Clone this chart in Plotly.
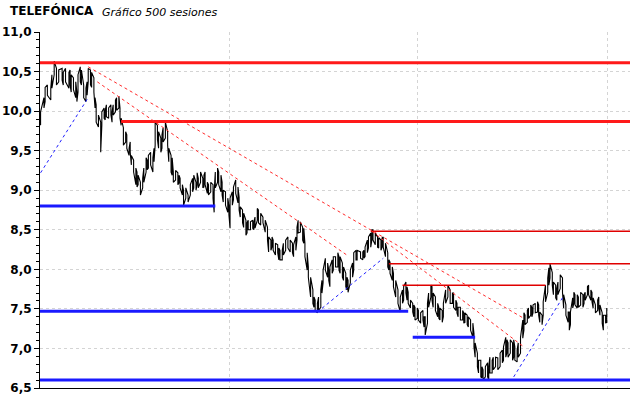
import plotly.graph_objects as go

# ---- price data (session index, high, low) ----
sessions = [0,3,4,6,9,10,12,14,16,19,20,22,25,26,27,29,31,32,33,35,36,38,40,41,42,44,45,47,48,49,
            51,53,54,56,57,58,60,62,63,64,66,67,69,70,71,73,75,76,78,79,80,82,84,85,86,88,90,91,93,94,
            95,97,99,100,101,103,104,106,107,108,110,112,113,115,116,117,119,121,122,123,125,126,128,130,
            132,134,135,137,138,139,141,143,144,145,147,148,150,152,153,154,156,157,159,160,161,163,165,166,
            167,169,170,172,174,175,176,178,179,181,182,183,185,187,188,189,191,192,194,196,198,200,201,203,
            204,205,207,209,210,211,213,214,216,218,220,222,223,225,226,227,229,231,232,233,235,236,238,240,
            241,242,244,245,247,248,249,251,253,254,255,257,258,260,262,263,264,266,267,269,270,271,273,275,
            276,278,279,282,284,285,286,288,289,291,292,293,295,297,298,300,301,302,304,306,307,308,310,311,
            313,315,317,319,320,322,323,324,326,328,329,330,332,333,335,337,338,339,341,342,344,345,346,348,
            350,351,352,354,355,357,359,361,363,364,366,367,368,370,372,373,374,376,377,379,381,382,383,385,
            386,388,389,390,392,394,395,396,398,399,401,403,405,407,408,410,411,412,414,416,417,418,420,421,
            423,425,426,427,429,430,432,433,434,436,438,439,440,442,443,445,447,448,449,451,452,454,455,456,
            458,460,461,463,465,466,467,469,470,471,473,474,476,478,479,480,482,483,485,486,487,489,491,492,
            493,495,496,498,499]
highs = [9.99,10.17,10.30,10.33,10.29,10.46,10.63,10.54,10.52,10.54,10.49,10.54,10.49,10.52,10.46,10.42,10.37,10.24,10.46,10.56,
         10.52,10.33,10.29,10.37,10.54,10.52,10.49,10.42,10.17,10.08,9.95,9.86,9.99,10.04,10.01,10.08,10.04,10.08,9.99,10.08,
         10.14,10.17,10.19,10.04,9.91,9.79,9.74,9.70,9.53,9.61,9.44,9.38,9.28,9.23,9.19,9.10,9.15,9.28,9.41,9.38,
         9.44,9.48,9.41,9.53,9.86,9.82,9.74,9.66,9.70,9.79,9.86,9.74,9.53,9.44,9.41,9.23,9.25,9.22,9.19,9.15,
         9.07,9.00,9.03,8.94,9.07,9.15,9.19,9.10,9.22,9.15,9.23,9.15,9.19,9.23,9.10,9.07,9.10,9.07,8.98,9.23,
         9.28,9.23,9.19,9.10,9.00,8.98,8.90,8.81,8.90,8.98,9.04,9.13,9.04,8.91,8.79,8.75,8.71,8.62,8.59,8.62,
         8.60,8.62,8.60,8.66,8.77,8.75,8.71,8.66,8.62,8.53,8.41,8.37,8.41,8.37,8.33,8.31,8.27,8.24,8.24,8.33,
         8.37,8.41,8.37,8.33,8.31,8.41,8.53,8.62,8.60,8.53,8.52,8.33,8.21,8.03,7.90,7.74,7.65,7.61,7.57,7.65,
         7.74,7.86,7.99,8.14,8.08,7.99,8.03,8.12,8.16,8.16,8.21,8.16,8.16,8.08,8.03,7.95,7.90,7.86,7.99,8.08,
         8.21,8.24,8.24,8.22,8.22,8.24,8.28,8.37,8.41,8.46,8.50,8.50,8.46,8.41,8.40,8.37,8.40,8.41,8.33,8.21,
         8.12,8.09,8.03,7.95,7.86,7.74,7.65,7.74,7.78,7.84,7.78,7.71,7.61,7.57,7.55,7.52,7.51,7.48,7.45,7.48,
         7.40,7.40,7.57,7.70,7.80,7.78,7.70,7.65,7.57,7.52,7.51,7.48,7.57,7.74,7.80,7.74,7.70,7.70,7.61,7.57,
         7.52,7.52,7.48,7.45,7.45,7.42,7.40,7.36,7.32,7.19,7.07,6.94,6.85,6.85,6.77,6.73,6.77,6.82,6.77,6.89,
         6.85,6.89,6.89,6.88,6.94,6.98,7.02,7.14,7.11,7.07,7.11,7.07,7.11,7.02,6.98,7.07,7.14,7.36,7.45,7.42,
         7.48,7.51,7.55,7.52,7.55,7.57,7.59,7.55,7.46,7.42,7.59,7.80,7.89,8.02,8.07,7.96,7.84,7.80,7.76,7.84,
         7.93,7.89,7.68,7.55,7.46,7.46,7.46,7.64,7.71,7.68,7.68,7.65,7.71,7.68,7.68,7.71,7.78,7.80,7.74,7.71,
         7.64,7.55,7.61,7.65,7.55,7.45,7.42,7.42,7.51]
lows = [9.82,10.04,10.12,10.20,10.14,10.29,10.46,10.33,10.37,10.39,10.33,10.37,10.29,10.33,10.24,10.27,10.17,10.12,10.24,10.37,
        10.33,10.17,10.12,10.20,10.37,10.33,10.30,10.24,10.04,9.86,9.80,9.48,9.82,9.91,9.89,9.93,9.91,9.95,9.86,9.95,
        9.99,10.01,10.04,9.91,9.82,9.57,9.61,9.53,9.44,9.48,9.32,9.23,9.07,9.04,9.07,8.94,9.03,9.10,9.23,9.26,
        9.28,9.32,9.23,9.36,9.57,9.64,9.53,9.48,9.53,9.61,9.66,9.57,9.36,9.23,9.19,9.10,9.13,9.07,9.09,9.03,
        8.94,8.81,8.90,8.85,8.94,8.98,9.03,9.00,9.07,9.03,9.10,9.03,9.04,9.07,8.96,8.94,8.98,8.90,8.72,9.03,
        9.10,9.07,8.98,8.94,8.85,8.81,8.72,8.69,8.52,8.81,8.88,8.96,8.84,8.75,8.66,8.59,8.53,8.43,8.46,8.50,
        8.50,8.52,8.50,8.52,8.62,8.59,8.56,8.59,8.47,8.37,8.22,8.24,8.28,8.24,8.18,8.21,8.12,8.12,8.12,8.18,
        8.24,8.27,8.22,8.21,8.16,8.24,8.37,8.46,8.47,8.37,8.33,8.16,7.99,7.90,7.65,7.57,7.52,7.48,7.45,7.48,
        7.52,7.70,7.83,7.99,7.90,7.86,7.78,7.95,7.99,8.03,8.03,7.99,7.95,7.90,7.86,7.78,7.74,7.71,7.83,7.90,
        7.99,8.12,8.12,8.14,8.12,8.14,8.16,8.21,8.27,8.28,8.37,8.37,8.31,8.28,8.27,8.24,8.28,8.28,8.16,8.03,
        7.99,7.95,7.86,7.78,7.65,7.57,7.46,7.57,7.61,7.70,7.61,7.57,7.51,7.46,7.40,7.36,7.38,7.36,7.32,7.36,
        7.27,7.17,7.32,7.52,7.65,7.61,7.52,7.48,7.40,7.38,7.36,7.33,7.40,7.57,7.65,7.57,7.57,7.52,7.48,7.45,
        7.40,7.36,7.36,7.32,7.33,7.30,7.27,7.23,7.14,7.02,6.89,6.77,6.69,6.64,6.63,6.60,6.64,6.64,6.60,6.69,
        6.69,6.73,6.77,6.73,6.77,6.82,6.85,6.89,6.94,6.89,6.94,6.85,6.89,6.85,6.83,6.89,6.94,7.13,7.23,7.30,
        7.33,7.38,7.42,7.40,7.45,7.45,7.46,7.42,7.33,7.30,7.42,7.59,7.71,7.80,7.89,7.80,7.68,7.64,7.61,7.68,
        7.76,7.71,7.51,7.42,7.33,7.23,7.30,7.51,7.57,7.55,7.51,7.52,7.55,7.52,7.57,7.61,7.68,7.68,7.61,7.59,
        7.51,7.45,7.48,7.51,7.42,7.32,7.23,7.32,7.33]

# ---- horizontal support / resistance levels: value, from session, to session ----
thick_red_levels = [10.61, 9.87]
thick_red_from = [-1, 71]
thick_red_to = [520, 520]

thick_blue_levels = [8.80, 7.47, 7.14, 6.60]
thick_blue_from = [-1, -1, 328, -1]
thick_blue_to = [154, 324, 383, 520]

thin_red_levels = [8.48, 8.07, 7.80]
thin_red_from = [291, 307, 319]
thin_red_to = [520, 520, 445]

# ---- trend lines: (session start, session end), (value start, value end) ----
red_trend_x = [(42, 426), (50, 271), (292, 425)]
red_trend_y = [(10.56, 7.38), (10.37, 8.17), (8.48, 7.03)]
blue_trend_x = [(0, 42), (244, 302), (417, 460)]
blue_trend_y = [(9.22, 10.17), (7.46, 8.14), (6.64, 7.64)]

y_ticks = [6.5, 7.0, 7.5, 8.0, 8.5, 9.0, 9.5, 10.0, 10.5, 11.0]
x_grid = [166.5, 332, 499.5]

fig = go.Figure()

# price path as dense vertical high-low strokes
px_, py_ = [], []
for i, (s, h, l) in enumerate(zip(sessions, highs, lows)):
    px_ += [s, s]
    py_ += [l, h] if i % 2 == 0 else [h, l]
fig.add_trace(go.Scatter(x=px_, y=py_, mode="lines",
                         line=dict(color="black", width=1.1), hoverinfo="skip"))

for v, a, b in zip(thick_red_levels, thick_red_from, thick_red_to):
    fig.add_trace(go.Scatter(x=[a, b], y=[v, v], mode="lines",
                             line=dict(color="#ff1a1a", width=3)))
for v, a, b in zip(thick_blue_levels, thick_blue_from, thick_blue_to):
    fig.add_trace(go.Scatter(x=[a, b], y=[v, v], mode="lines",
                             line=dict(color="#1a1aff", width=3)))
for v, a, b in zip(thin_red_levels, thin_red_from, thin_red_to):
    fig.add_trace(go.Scatter(x=[a, b], y=[v, v], mode="lines",
                             line=dict(color="#e00000", width=1.5)))
for xs, ys in zip(red_trend_x, red_trend_y):
    fig.add_trace(go.Scatter(x=list(xs), y=list(ys), mode="lines",
                             line=dict(color="#ff2a2a", width=1, dash="dot")))
for xs, ys in zip(blue_trend_x, blue_trend_y):
    fig.add_trace(go.Scatter(x=list(xs), y=list(ys), mode="lines",
                             line=dict(color="#2020ff", width=1, dash="dot")))

fig.update_layout(
    width=640, height=398,
    margin=dict(l=40, r=10, t=32, b=10, autoexpand=False),
    paper_bgcolor="white", plot_bgcolor="white",
    showlegend=False,
    separators=",.",
    font=dict(family="DejaVu Sans", color="black"),
    xaxis=dict(range=[-0.5, 519.5], showticklabels=False, ticks="", automargin=False,
               tickvals=x_grid, showgrid=True, gridcolor="#d4d4d4", griddash="dot",
               gridwidth=1, zeroline=False, showline=True, linecolor="black", linewidth=1),
    yaxis=dict(range=[6.5, 11.0], tickvals=y_ticks, tickformat=".1f", automargin=False,
               ticks="outside", ticklen=5, tickcolor="black", tickwidth=1,
               tickfont=dict(family="DejaVu Sans", size=12, color="black", weight="bold"),
               showgrid=True, gridcolor="#d4d4d4", griddash="dot", gridwidth=1,
               zeroline=False, showline=True, linecolor="black", linewidth=1,
               minor=dict(dtick=0.1, ticks="outside", ticklen=3, tickcolor="black", showgrid=False)),
)

fig.add_annotation(xref="paper", yref="paper", x=-0.054, y=1.059, xanchor="left", yanchor="middle",
                   text="<b>TELEFÓNICA</b>", showarrow=False,
                   font=dict(family="DejaVu Sans", size=12, color="black"))
fig.add_annotation(xref="paper", yref="paper", x=0.1017, y=1.056, xanchor="left", yanchor="middle",
                   text="<i>Gráfico 500 sesiones</i>", showarrow=False,
                   font=dict(family="DejaVu Sans", size=11, color="black"))

fig.write_html("out.html", config={"displayModeBar": False},
               post_script="document.body.style.margin='0';document.body.style.overflow='hidden';")
